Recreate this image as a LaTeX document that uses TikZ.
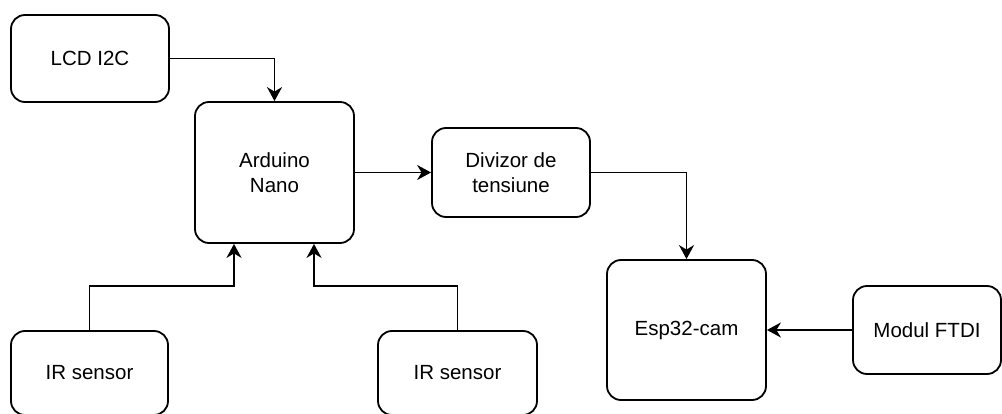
\documentclass[tikz,border=0pt]{standalone}
\usepackage{fontspec}
\setmainfont{Liberation Sans}
\usetikzlibrary{arrows.meta}
\begin{document}
\begin{tikzpicture}[x=1pt,y=-1pt,
  box/.style={draw=black, line width=1.8pt, rounded corners=14pt, inner sep=0pt, align=center,
    font=\fontsize{20.5}{25}\selectfont},
  arr/.style={draw=black, line width=1.8pt, -{Stealth[length=14pt,width=15pt,inset=4.5pt]}}]
\useasboundingbox (0,0) rectangle (1002,414);
\node[box, minimum width=158pt, minimum height=87pt] (lcd) at (90,58.5) {LCD I2C};
\node[box, minimum width=159pt, minimum height=141pt] (ard) at (274.5,172.5) {Arduino\\Nano};
\node[box, minimum width=158pt, minimum height=89pt] (div) at (511,172.5) {Divizor de\\tensiune};
\node[box, minimum width=159pt, minimum height=140pt] (esp) at (686.5,330) {Esp32-cam};
\node[box, minimum width=148pt, minimum height=88pt] (ftdi) at (927,330) {Modul FTDI};
\node[box, minimum width=157pt, minimum height=84pt] (irl) at (89.5,373) {IR sensor};
\node[box, minimum width=159pt, minimum height=84pt] (irr) at (457.5,373) {IR sensor};
\draw[arr] (lcd.east) -| (ard.north);
\draw[arr] (ard.east) -- (div.west);
\draw[arr] (div.east) -| (esp.north);
\draw[arr] (ftdi.west) -- (esp.east);
\draw[arr] (irl.north) -- ++(0,-44) -| ([xshift=-40.5pt]ard.south);
\draw[arr] (irr.north) -- ++(0,-44) -| ([xshift=39.5pt]ard.south);
\end{tikzpicture}
\end{document}
